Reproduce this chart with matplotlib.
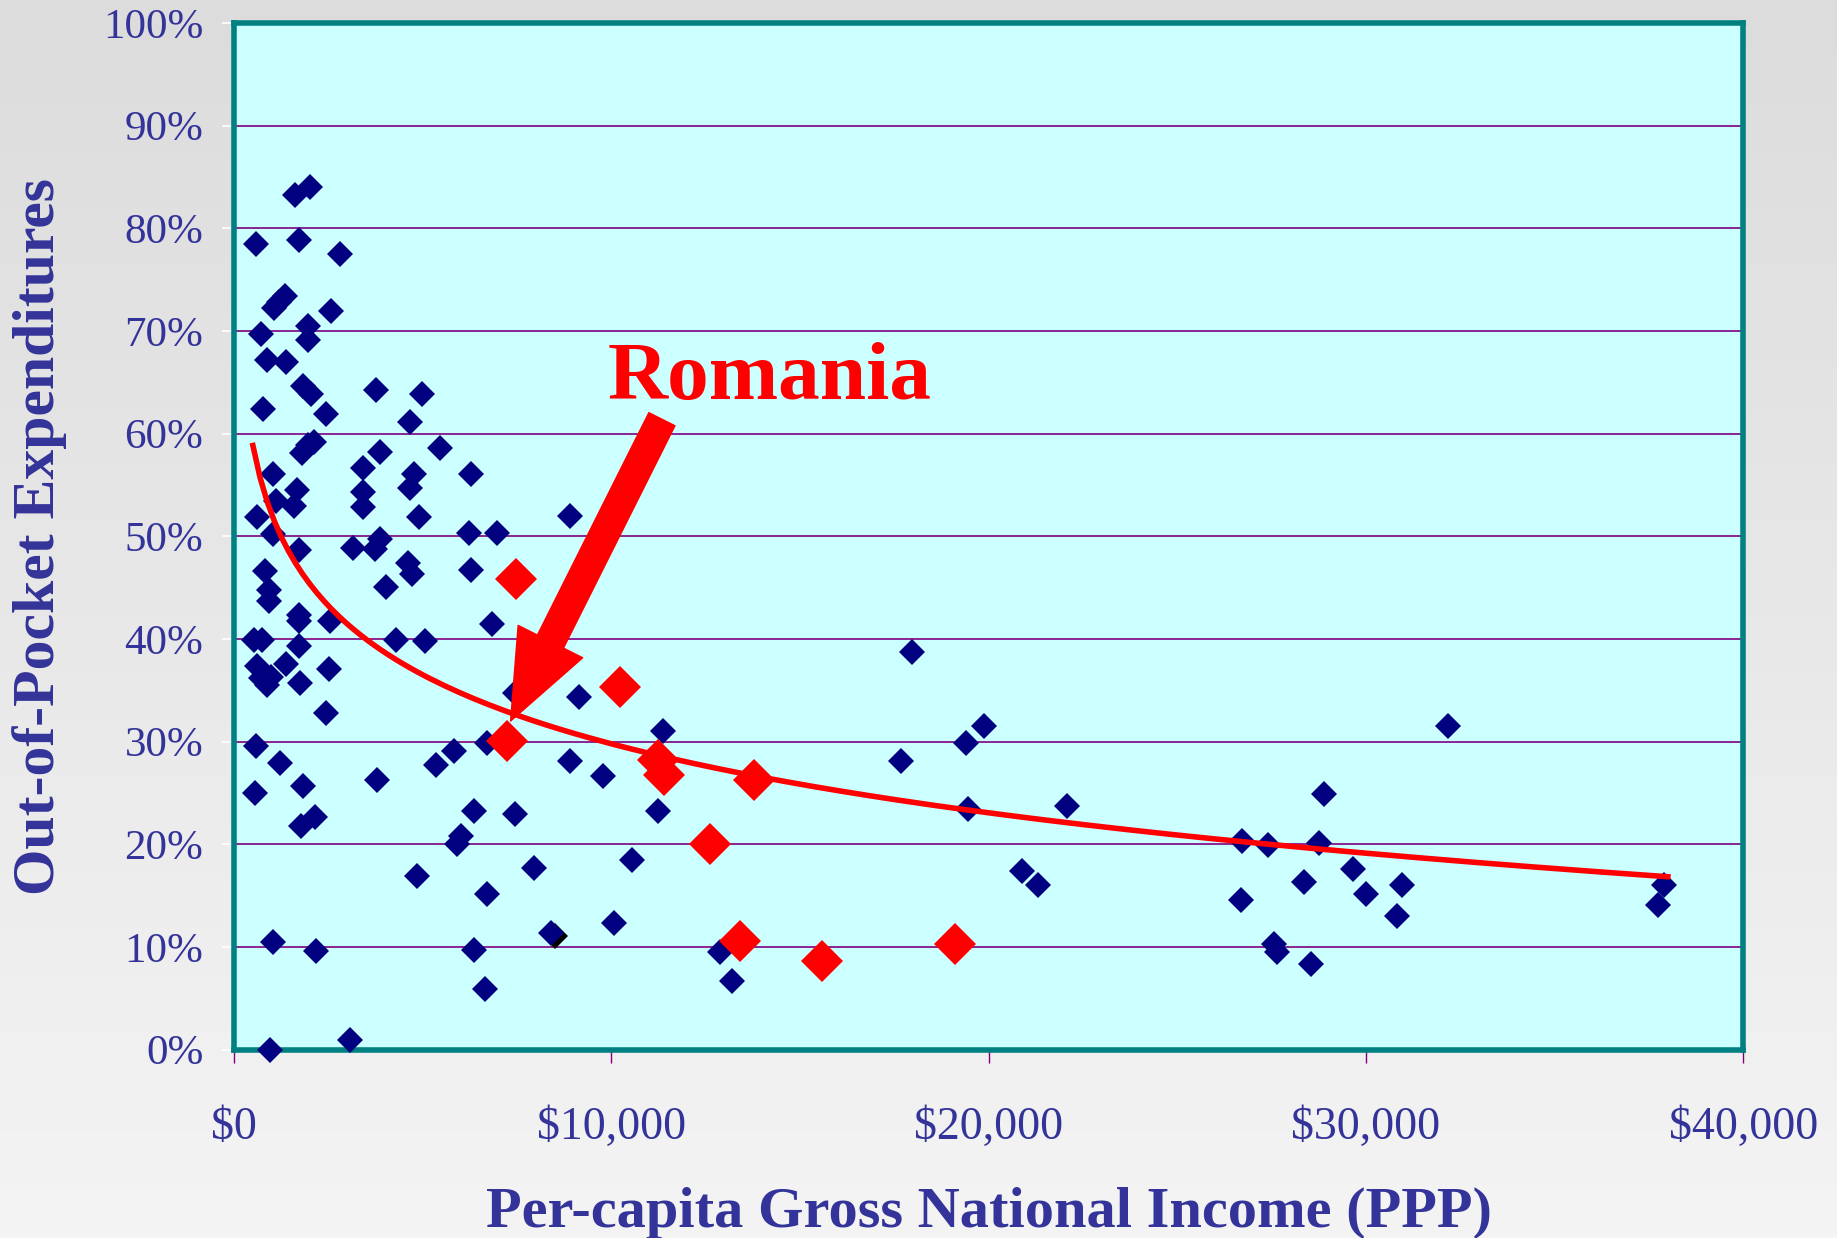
import numpy as np
import matplotlib
matplotlib.use("Agg")
import matplotlib.pyplot as plt
from matplotlib.patches import FancyArrowPatch

# per-capita GNI (PPP, $ thousands) and out-of-pocket share (%)
gni_other = [0.59, 1.61, 2.02, 1.71, 2.80, 0.71, 2.58, 1.06, 1.34, 1.18,
             1.96, 1.96, 0.87, 1.37, 1.83, 2.05, 0.78, 2.45, 1.96, 2.11,
             1.80, 1.02, 1.68, 1.12, 1.58, 0.62, 1.02, 1.71, 0.81, 0.93,
             0.93, 1.71, 1.71, 2.55, 0.53, 0.75, 1.71, 1.37, 0.62, 2.52,
             0.71, 0.99, 0.87, 1.74, 2.45, 0.59, 1.21, 1.83, 0.56, 2.14,
             1.77, 1.02, 2.17, 0.96, 3.07,
             3.76, 4.97, 5.47, 3.88, 4.66, 6.27, 3.42, 4.78, 3.42, 4.66,
             3.42, 4.91, 8.91, 6.24, 6.96, 3.88, 3.14, 3.73, 6.27, 4.60,
             4.72, 4.04, 6.83, 4.29, 5.06, 7.45, 9.13, 11.37, 5.84, 6.71,
             3.79, 5.34, 8.91, 9.78, 6.37, 7.45, 11.24, 5.90, 6.02, 10.56,
             7.95, 4.84, 6.71, 8.39, 10.06, 6.37, 12.89, 6.65, 13.20,
             17.98, 17.67, 19.88, 19.41, 19.44, 22.08, 20.87, 21.30, 26.71, 27.39,
             28.76, 26.68, 28.88, 27.55, 27.64, 28.35, 28.54, 29.66, 30.00, 30.96,
             30.81, 32.17, 37.89, 37.73]
oop_other = [78.5, 83.2, 84.0, 78.9, 77.5, 69.7, 71.9, 72.2, 73.4, 72.8,
             70.5, 69.1, 67.2, 67.0, 64.6, 63.9, 62.4, 61.9, 58.9, 59.2,
             58.1, 56.1, 54.5, 53.4, 52.9, 51.9, 50.2, 48.7, 46.6, 44.8,
             43.7, 42.3, 41.7, 41.7, 39.9, 39.9, 39.3, 37.6, 37.4, 37.1,
             36.2, 36.3, 35.5, 35.7, 32.8, 29.6, 27.9, 25.7, 25.0, 22.7,
             21.8, 10.5, 9.6, 0.0, 0.9,
             64.2, 63.9, 58.6, 58.2, 61.1, 56.1, 56.6, 56.1, 54.3, 54.7,
             52.8, 51.9, 52.0, 50.3, 50.3, 49.7, 48.9, 48.8, 46.7, 47.4,
             46.3, 45.1, 41.5, 39.9, 39.8, 34.7, 34.3, 31.0, 29.1, 29.9,
             26.3, 27.7, 28.1, 26.6, 23.2, 22.9, 23.2, 20.0, 20.8, 18.5,
             17.7, 16.9, 15.2, 11.4, 12.3, 9.7, 9.5, 5.9, 6.7,
             38.7, 28.1, 31.5, 29.9, 23.4, 23.7, 17.4, 16.0, 20.3, 19.9,
             20.1, 14.6, 24.9, 10.3, 9.5, 16.3, 8.3, 17.6, 15.2, 16.0,
             13.0, 31.5, 16.0, 14.1]

# highlighted countries (red)
gni_red = [7.48, 7.24, 10.22, 11.24, 11.40, 13.79, 12.61, 13.42, 15.59, 19.10]
oop_red = [45.8, 30.1, 35.3, 28.2, 26.7, 26.3, 20.0, 10.6, 8.6, 10.3]

# one black point mostly hidden behind a blue one
gni_black = [8.50]
oop_black = [11.1]

romania = (7.24, 30.1)

xticks = [0, 10, 20, 30, 40]
xtick_labels = ["$0", "$10,000", "$20,000", "$30,000", "$40,000"]
yticks = list(range(0, 101, 10))
ytick_labels = [f"{v}%" for v in yticks]

label_col = "#333399"
serif = ["Liberation Serif", "DejaVu Serif"]

fig = plt.figure(figsize=(18.37, 12.38), dpi=100)

# grey gradient background
bg = fig.add_axes([0, 0, 1, 1], zorder=-5)
grad = np.linspace(0, 1, 256).reshape(-1, 1)
bg.imshow(grad, aspect="auto", cmap=matplotlib.colors.LinearSegmentedColormap.from_list(
    "g", ["#dcdcdc", "#f4f4f4"]), extent=[0, 1, 0, 1], origin="upper")
bg.axis("off")

ax = fig.add_axes([0.1274, 0.1522, 0.8216, 0.8293])
ax.set_facecolor("#ccffff")

# log trend fitted to all points
all_x = np.array(gni_other + gni_red)
all_y = np.array(oop_other + oop_red)
b, a = np.polyfit(np.log(all_x), all_y, 1)
tx = np.linspace(0.5, 38.0, 200)
ax.plot(tx, a + b * np.log(tx), color="red", lw=4, zorder=4)

ax.plot(gni_black, oop_black, linestyle="none", marker="D", ms=13,
        color="black", markeredgewidth=0, zorder=2.9)
ax.plot(gni_other, oop_other, linestyle="none", marker="D", ms=13,
        color="#000080", markeredgewidth=0, zorder=3, clip_on=False)
ax.plot(gni_red, oop_red, linestyle="none", marker="D", ms=21,
        color="#ff0000", markeredgewidth=0, zorder=3)

ax.set_xlim(0, 40)
ax.set_ylim(0, 100)
ax.set_xticks(xticks)
ax.set_xticklabels(xtick_labels)
ax.set_yticks(yticks)
ax.set_yticklabels(ytick_labels)
for lab in ax.get_xticklabels():
    lab.set_family(serif)
    lab.set_fontsize(33)
    lab.set_color(label_col)
for lab in ax.get_yticklabels():
    lab.set_family(serif)
    lab.set_fontsize(31)
    lab.set_color(label_col)
ax.tick_params(axis="x", direction="out", length=9, width=1, color="#800080", pad=32)
ax.tick_params(axis="y", direction="out", length=9, width=1.2, color="white", pad=13)

ax.yaxis.grid(True, color="#800080", lw=1.2)
ax.set_axisbelow(True)
for s in ax.spines.values():
    s.set_color("#008080")
    s.set_linewidth(4)

ax.set_xlabel("Per-capita Gross National Income (PPP)", family=serif, fontsize=42,
              fontweight="bold", color=label_col, labelpad=27)
ax.set_ylabel("Out-of-Pocket Expenditures", family=serif, fontsize=43,
              fontweight="bold", color=label_col, labelpad=26)

# Romania callout
ax.text(14.19, 65.3, "Romania", family=serif, fontsize=60, fontweight="bold",
        color="red", ha="center", va="center", zorder=6)
arrow = FancyArrowPatch((11.34, 61.4), (7.33, 32.0),
                        arrowstyle="simple,head_width=52,head_length=64,tail_width=21",
                        mutation_scale=1, color="red", shrinkA=0, shrinkB=0, zorder=6)
ax.add_patch(arrow)

fig.savefig("out.png", dpi=100)
